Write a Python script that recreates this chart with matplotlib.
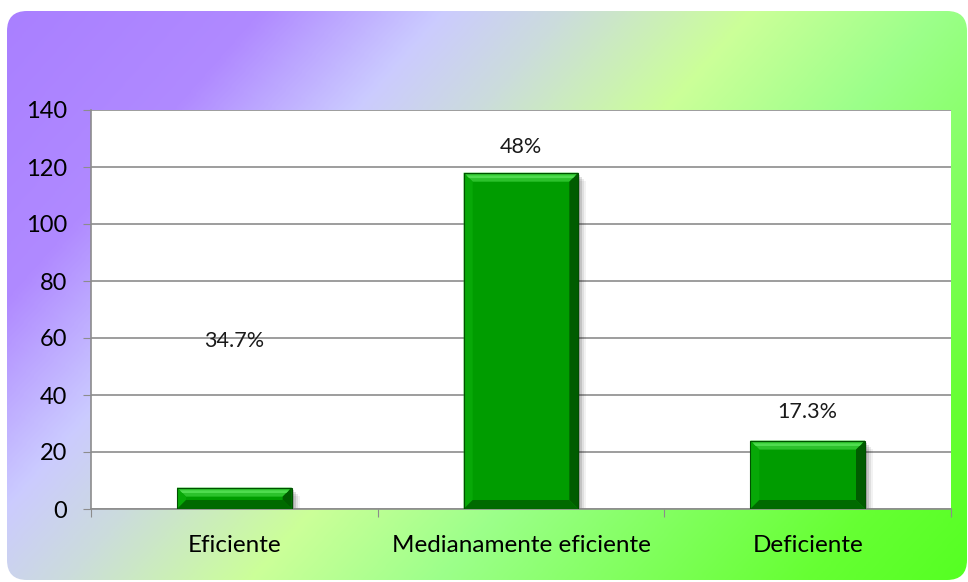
import numpy as np
import matplotlib
matplotlib.use("Agg")
import matplotlib.pyplot as plt
from matplotlib.patches import FancyBboxPatch, Polygon, Rectangle
from matplotlib.colors import LinearSegmentedColormap

categories = ["Eficiente", "Medianamente eficiente", "Deficiente"]
values = [7.5, 118, 24]
pct_labels = ["34.7%", "48%", "17.3%"]
label_y = [59, 127, 34]
yticks = [0, 20, 40, 60, 80, 100, 120, 140]

plt.rcParams['font.family'] = ['Lato', 'DejaVu Sans']

fig = plt.figure(figsize=(9.68, 5.82), dpi=100)
fig.patch.set_facecolor("white")

# background gradient panel
bg = fig.add_axes([0, 0, 1, 1], zorder=0)
bg.set_xlim(0, 968); bg.set_ylim(582, 0); bg.axis("off")
k = 0.88
tmax = 968 + k * 582
stops = [(0, "#a97fff"), (270, "#b08aff"), (450, "#cbcbff"), (575, "#cbdcdc"),
         (760, "#ccff99"), (950, "#9cff8a"), (1100, "#86ff66"), (1320, "#66ff33"), (tmax, "#55ff22")]
cmap = LinearSegmentedColormap.from_list("bg", [(s / tmax, c) for s, c in stops])
H, W = 291, 484
yy, xx = np.mgrid[0:H, 0:W]
px = xx * 968 / (W - 1); py = yy * 582 / (H - 1)
t = (px + k * py) / tmax
im = bg.imshow(t, cmap=cmap, vmin=0, vmax=1, extent=[0, 968, 582, 0], aspect="auto",
               interpolation="bilinear")
panel = FancyBboxPatch((7, 11), 960, 569, boxstyle="round,pad=0,rounding_size=20",
                       facecolor="none", edgecolor="none", transform=bg.transData)
bg.add_patch(panel)
im.set_clip_path(panel)

ax = fig.add_axes([91/968, 1 - 509/582, (951 - 91)/968, (509 - 110)/582], zorder=2)
ax.set_facecolor("white")
x = np.arange(len(categories))
bars = ax.bar(x, values, width=0.4, color="#009c00", zorder=3, linewidth=0)
ax.set_xlim(-0.5, len(categories) - 0.5)
ax.set_ylim(0, 140)
ax.set_yticks(yticks)
ax.set_yticklabels([str(v) for v in yticks], fontsize=17)
ax.set_xticks(np.arange(len(categories) + 1) - 0.5)
ax.set_xticklabels([])
ax.set_xticks(x, minor=True)
ax.set_xticklabels(categories, minor=True, fontsize=17.5)
ax.tick_params(axis="x", which="minor", length=0, pad=19)
ax.tick_params(axis="x", which="major", length=6, color="#8c8c8c", direction="out")
ax.tick_params(axis="y", length=6, color="#8c8c8c", direction="out", pad=11)
ax.yaxis.grid(True, color="#8c8c8c", linewidth=1.2, zorder=1)
ax.set_axisbelow(True)
for s in ["top", "right"]:
    ax.spines[s].set_visible(False)
for s in ["left", "bottom"]:
    ax.spines[s].set_color("#8c8c8c")
    ax.spines[s].set_linewidth(1.2)

# bevel + shadow for each bar, derived from bar geometry
fig.canvas.draw()
to_data = ax.transData.inverted()
for b in bars:
    x0, y0 = b.get_x(), b.get_y()
    w, h = b.get_width(), b.get_height()
    (px0, py0) = ax.transData.transform((x0, y0))
    (px1, py1) = ax.transData.transform((x0 + w, y0 + h))
    d = min(9, (py1 - py0) / 2.3)

    def P(pts):
        return [to_data.transform(p) for p in pts]
    # shadow (to the right and slightly below)
    for kk, a in [(8, 0.05), (6, 0.08), (4, 0.12), (2, 0.16)]:
        sh = Polygon(P([(px0 + kk, py0 - kk / 2), (px1 + kk, py0 - kk / 2),
                        (px1 + kk, py1 - kk), (px0 + kk, py1 - kk)]),
                     closed=True, facecolor="black", alpha=a, edgecolor="none", zorder=2.5)
        ax.add_patch(sh)
    top = Polygon(P([(px0, py1), (px1, py1), (px1 - d, py1 - d), (px0 + d, py1 - d)]),
                  facecolor="#2cc22c", edgecolor="none", zorder=4)
    top2 = Polygon(P([(px0 + d * 0.3, py1 - d * 0.3), (px1 - d * 0.3, py1 - d * 0.3),
                      (px1 - d * 0.6, py1 - d * 0.6), (px0 + d * 0.6, py1 - d * 0.6)]),
                   facecolor="#4fdc4f", edgecolor="none", zorder=4.1)
    left = Polygon(P([(px0, py0), (px0, py1), (px0 + d, py1 - d), (px0 + d, py0 + d)]),
                   facecolor="#07a807", edgecolor="none", zorder=4)
    right = Polygon(P([(px1, py0), (px1, py1), (px1 - d, py1 - d), (px1 - d, py0 + d)]),
                    facecolor="#005c00", edgecolor="none", zorder=4)
    bot = Polygon(P([(px0, py0), (px1, py0), (px1 - d, py0 + d), (px0 + d, py0 + d)]),
                  facecolor="#006a00", edgecolor="none", zorder=4)
    for p in (top, top2, left, right, bot):
        ax.add_patch(p)
    edge = Rectangle((x0, y0), w, h, facecolor="none", edgecolor="#005000", linewidth=0.8, zorder=5)
    ax.add_patch(edge)

for xi, ly, lab in zip(x, label_y, pct_labels):
    ax.text(xi, ly, lab, ha="center", va="center", fontsize=15.5, color="#1a1a1a", zorder=6)

fig.savefig("out.png", dpi=100)
